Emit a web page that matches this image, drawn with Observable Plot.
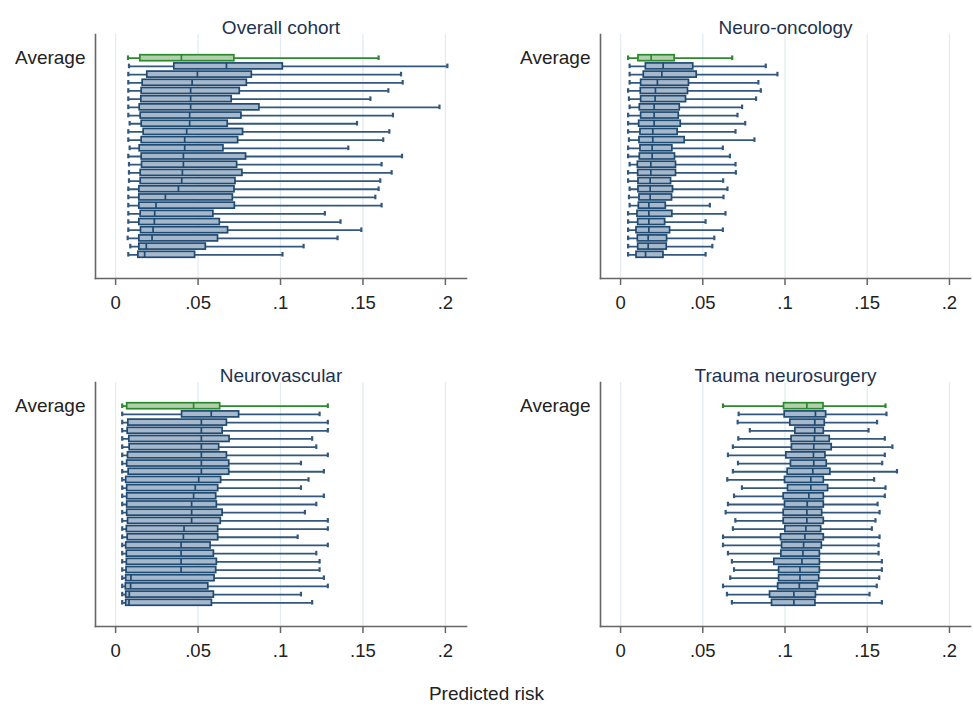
<!DOCTYPE html>
<html>
<head>
<meta charset="utf-8">
<script src="https://cdn.jsdelivr.net/npm/d3@7"></script>
<script src="https://cdn.jsdelivr.net/npm/@observablehq/plot@0.6"></script>
<style>
  body { margin: 0; background: #fff; }
  #wrap { position: relative; width: 973px; height: 708px; background: #fff; font-family: "Liberation Sans", Arial, sans-serif; overflow: hidden; }
  .panel { position: absolute; }
  #xlabel { position: absolute; left: 0; width: 973px; top: 683px; text-align: center; font-size: 19px; color: #222; }
</style>
</head>
<body>
<div id="wrap">
  <div id="xlabel">Predicted risk</div>
</div>
<script>
// ---- Data ----
const rowIds = ["Average","1","2","3","4","5","6","7","8","9","10","11","12","13","14","15","16","17","18","19","20","21","22","23","24"];
const tickValues = [0, 0.05, 0.1, 0.15, 0.2];
const tickLabels = ["0", ".05", ".1", ".15", ".2"];
const panelTitles = ["Overall cohort", "Neuro-oncology", "Neurovascular", "Trauma neurosurgery"];
const axisLabel = "Predicted risk";

// [min, q1, median, q3, max]; first row = Average
const overallStats = [
  [0.0075,0.0150,0.0399,0.0720,0.1595],
  [0.0081,0.0356,0.0672,0.1014,0.2012],
  [0.0077,0.0192,0.0496,0.0826,0.1731],
  [0.0077,0.0164,0.0464,0.0796,0.1741],
  [0.0077,0.0158,0.0455,0.0753,0.1654],
  [0.0077,0.0156,0.0455,0.0704,0.1545],
  [0.0077,0.0146,0.0455,0.0872,0.1964],
  [0.0077,0.0152,0.0449,0.0763,0.1682],
  [0.0085,0.0158,0.0449,0.0680,0.1464],
  [0.0077,0.0170,0.0431,0.0773,0.1660],
  [0.0077,0.0158,0.0419,0.0743,0.1623],
  [0.0085,0.0146,0.0419,0.0654,0.1411],
  [0.0077,0.0158,0.0411,0.0791,0.1737],
  [0.0081,0.0160,0.0411,0.0737,0.1613],
  [0.0081,0.0152,0.0405,0.0769,0.1674],
  [0.0081,0.0152,0.0401,0.0727,0.1605],
  [0.0077,0.0144,0.0381,0.0721,0.1595],
  [0.0077,0.0144,0.0302,0.0711,0.1575],
  [0.0077,0.0144,0.0245,0.0723,0.1613],
  [0.0077,0.0152,0.0237,0.0593,0.1269],
  [0.0077,0.0144,0.0235,0.0632,0.1364],
  [0.0077,0.0154,0.0227,0.0682,0.1490],
  [0.0073,0.0144,0.0221,0.0621,0.1346],
  [0.0089,0.0144,0.0186,0.0547,0.1140],
  [0.0077,0.0138,0.0176,0.0482,0.1012]
];
const oncologyStats = [
  [0.0046,0.0109,0.0186,0.0329,0.0679],
  [0.0055,0.0154,0.0259,0.0442,0.0883],
  [0.0055,0.0141,0.0251,0.0463,0.0954],
  [0.0055,0.0125,0.0224,0.0416,0.0838],
  [0.0046,0.0123,0.0212,0.0410,0.0853],
  [0.0051,0.0125,0.0210,0.0398,0.0824],
  [0.0055,0.0117,0.0204,0.0360,0.0739],
  [0.0046,0.0125,0.0204,0.0354,0.0711],
  [0.0046,0.0113,0.0204,0.0366,0.0758],
  [0.0046,0.0121,0.0196,0.0347,0.0699],
  [0.0051,0.0115,0.0196,0.0390,0.0814],
  [0.0046,0.0121,0.0192,0.0315,0.0622],
  [0.0046,0.0117,0.0192,0.0331,0.0665],
  [0.0055,0.0105,0.0184,0.0337,0.0699],
  [0.0046,0.0107,0.0184,0.0337,0.0701],
  [0.0046,0.0109,0.0180,0.0307,0.0624],
  [0.0055,0.0109,0.0180,0.0319,0.0650],
  [0.0051,0.0115,0.0180,0.0313,0.0626],
  [0.0055,0.0111,0.0172,0.0275,0.0543],
  [0.0046,0.0103,0.0172,0.0315,0.0638],
  [0.0046,0.0107,0.0172,0.0271,0.0517],
  [0.0046,0.0097,0.0172,0.0301,0.0622],
  [0.0046,0.0105,0.0168,0.0283,0.0570],
  [0.0046,0.0107,0.0168,0.0281,0.0558],
  [0.0046,0.0097,0.0152,0.0261,0.0517]
];
const vascularStats = [
  [0.0040,0.0070,0.0473,0.0634,0.1287],
  [0.0040,0.0403,0.0580,0.0749,0.1237],
  [0.0040,0.0077,0.0520,0.0675,0.1287],
  [0.0040,0.0073,0.0520,0.0649,0.1287],
  [0.0040,0.0083,0.0520,0.0691,0.1192],
  [0.0040,0.0085,0.0520,0.0628,0.1217],
  [0.0040,0.0075,0.0520,0.0675,0.1287],
  [0.0040,0.0070,0.0520,0.0689,0.1124],
  [0.0040,0.0079,0.0520,0.0689,0.1263],
  [0.0040,0.0064,0.0504,0.0640,0.1170],
  [0.0040,0.0070,0.0483,0.0622,0.1124],
  [0.0040,0.0070,0.0473,0.0610,0.1263],
  [0.0040,0.0070,0.0461,0.0614,0.1217],
  [0.0040,0.0070,0.0461,0.0649,0.1148],
  [0.0040,0.0075,0.0461,0.0638,0.1287],
  [0.0040,0.0068,0.0415,0.0622,0.1287],
  [0.0040,0.0073,0.0411,0.0622,0.1104],
  [0.0040,0.0064,0.0397,0.0576,0.1287],
  [0.0040,0.0068,0.0397,0.0596,0.1217],
  [0.0040,0.0068,0.0397,0.0614,0.1237],
  [0.0040,0.0066,0.0397,0.0610,0.1237],
  [0.0040,0.0064,0.0093,0.0600,0.1263],
  [0.0040,0.0062,0.0091,0.0562,0.1287],
  [0.0040,0.0064,0.0083,0.0596,0.1124],
  [0.0040,0.0064,0.0081,0.0584,0.1192]
];
const traumaStats = [
  [0.0623,0.0994,0.1133,0.1234,0.1611],
  [0.0718,0.0998,0.1185,0.1250,0.1617],
  [0.0712,0.1032,0.1181,0.1242,0.1560],
  [0.0786,0.1063,0.1181,0.1236,0.1508],
  [0.0716,0.1040,0.1179,0.1272,0.1607],
  [0.0683,0.1042,0.1175,0.1284,0.1653],
  [0.0653,0.1008,0.1173,0.1246,0.1607],
  [0.0714,0.1036,0.1175,0.1254,0.1591],
  [0.0683,0.1016,0.1169,0.1276,0.1681],
  [0.0649,0.1000,0.1157,0.1236,0.1542],
  [0.0738,0.1018,0.1157,0.1262,0.1611],
  [0.0690,0.0992,0.1145,0.1236,0.1607],
  [0.0653,0.1000,0.1135,0.1236,0.1563],
  [0.0639,0.0992,0.1133,0.1226,0.1575],
  [0.0698,0.0992,0.1133,0.1236,0.1550],
  [0.0683,0.1002,0.1127,0.1220,0.1528],
  [0.0623,0.0976,0.1121,0.1236,0.1575],
  [0.0623,0.0982,0.1113,0.1224,0.1569],
  [0.0653,0.0978,0.1109,0.1212,0.1569],
  [0.0677,0.0935,0.1103,0.1212,0.1589],
  [0.0690,0.0964,0.1091,0.1212,0.1589],
  [0.0667,0.0964,0.1091,0.1208,0.1573],
  [0.0623,0.0958,0.1087,0.1200,0.1558],
  [0.0647,0.0909,0.1054,0.1188,0.1514],
  [0.0677,0.0921,0.1054,0.1185,0.1589]
];

// ---- Styles ----
const FONT = '"Liberation Sans", Arial, sans-serif';
const GREEN = { stroke: "#2b8a2b", fill: "#b3cfae", whisker: "#2b8a2b" };
const BLUE = { stroke: "#1f4a72", fill: "#a6b8cb", whisker: "#33587d" };

function boxMarks(data, c) {
  return [
    Plot.ruleY(data, { y: "id", x1: "min", x2: "max", stroke: c.whisker, strokeWidth: 1.8 }),
    Plot.tickX(data, { y: "id", x: "min", stroke: c.whisker, strokeWidth: 2.2, insetTop: 1.8, insetBottom: 1.8 }),
    Plot.tickX(data, { y: "id", x: "max", stroke: c.whisker, strokeWidth: 2.2, insetTop: 1.8, insetBottom: 1.8 }),
    Plot.barX(data, { y: "id", x1: "q1", x2: "q3", fill: c.fill, stroke: c.stroke, strokeWidth: 1.7, insetTop: 1.1, insetBottom: 1.1 }),
    Plot.tickX(data, { y: "id", x: "med", stroke: c.stroke, strokeWidth: 1.7, insetTop: 1.1, insetBottom: 1.1 })
  ];
}

function makePanel(title, stats, width, marginLeft, marginRight) {
  const rows = stats.map((s, i) => ({ id: rowIds[i], min: s[0], q1: s[1], med: s[2], q3: s[3], max: s[4] }));
  const avg = rows.filter(d => d.id === "Average");
  const rest = rows.filter(d => d.id !== "Average");
  return Plot.plot({
    width, height: 340,
    marginTop: 34, marginBottom: 62, marginLeft, marginRight,
    style: { fontFamily: FONT, fontSize: "18px", color: "#222", background: "transparent", overflow: "visible" },
    x: { domain: [-0.0122, 0.2128] },
    y: { type: "band", domain: rowIds, paddingInner: 0, paddingOuter: 2.395, round: false },
    marks: [
      Plot.ruleX(tickValues, { stroke: "#e2ecf0", strokeWidth: 1.3 }),
      ...boxMarks(rest, BLUE),
      ...boxMarks(avg, GREEN),
      Plot.frame({ anchor: "left", stroke: "#666", strokeWidth: 1.6 }),
      Plot.frame({ anchor: "bottom", stroke: "#666", strokeWidth: 1.6 }),
      Plot.axisX({ ticks: tickValues, tickFormat: d => tickLabels[tickValues.indexOf(d)], tickSize: 7, tickPadding: 10, stroke: "#666", strokeWidth: 1.5, fill: "#222", fontSize: 18.5, label: null }),
      Plot.axisY({ ticks: ["Average"], tickSize: 0, tickPadding: 10, fontSize: 19, fill: "#222", label: null }),
      Plot.text([title], { text: d => d, frameAnchor: "top", dy: -14, fontSize: 19, fill: "#1c3350" })
    ]
  });
}

const wrap = document.getElementById("wrap");
const layout = [
  { title: panelTitles[0], stats: overallStats,  left: 0,   top: 0,   width: 486, ml: 95,  mr: 20 },
  { title: panelTitles[1], stats: oncologyStats, left: 486, top: 0,   width: 487, ml: 114, mr: 3 },
  { title: panelTitles[2], stats: vascularStats, left: 0,   top: 348, width: 486, ml: 95,  mr: 20 },
  { title: panelTitles[3], stats: traumaStats,   left: 486, top: 348, width: 487, ml: 114, mr: 3 }
];
for (const p of layout) {
  const div = document.createElement("div");
  div.className = "panel";
  div.style.left = p.left + "px";
  div.style.top = p.top + "px";
  div.appendChild(makePanel(p.title, p.stats, p.width, p.ml, p.mr));
  wrap.appendChild(div);
}
document.getElementById("xlabel").textContent = axisLabel;
</script>
</body>
</html>
